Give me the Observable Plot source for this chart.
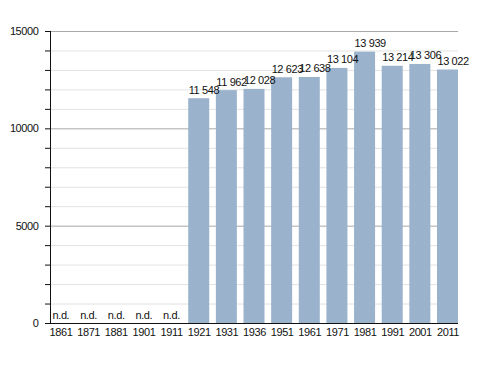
<!DOCTYPE html>
<html>
<head>
<meta charset="utf-8">
<script src="https://cdn.jsdelivr.net/npm/d3@7"></script>
<script src="https://cdn.jsdelivr.net/npm/@observablehq/plot@0.6"></script>
<style>
  body { margin: 0; background: #fff; }
  svg { font-family: "Liberation Sans", Arial, sans-serif; }
  svg text { letter-spacing: -0.4px; }
</style>
</head>
<body>
<div id="chart"></div>
<script>
const years = ["1861","1871","1881","1901","1911","1921","1931","1936","1951","1961","1971","1981","1991","2001","2011"];
const population = [null,null,null,null,null,11548,11962,12028,12623,12638,13104,13939,13214,13306,13022];
const yTicksMajor = [0, 5000, 10000, 15000];
const yTicksMinor = [1000,2000,3000,4000,6000,7000,8000,9000,11000,12000,13000,14000];
const missingLabel = "n.d.";

const data = years.map((y, i) => ({year: y, value: population[i]}));
const present = data.filter(d => d.value != null);
const missing = data.filter(d => d.value == null);
const fmt = v => d3.format(",")(v).replace(/,/g, " ");

const chart = Plot.plot({
  width: 488,
  height: 373,
  marginTop: 31,
  marginBottom: 50,
  marginLeft: 50,
  marginRight: 30,
  style: {fontSize: "11px", fontFamily: "'Liberation Sans', Arial, sans-serif", color: "#111"},
  x: {domain: years, paddingInner: 0.24, paddingOuter: 0, round: false, label: null},
  y: {domain: [0, 15000], label: null},
  marks: [
    Plot.ruleY(yTicksMinor, {stroke: "#e2e2e2", strokeWidth: 1}),
    Plot.ruleY(yTicksMajor.filter(d => d > 0), {stroke: "#a8a8a8", strokeWidth: 1}),
    Plot.barY(present, {x: "year", y: "value", fill: "#9bb2cc"}),
    Plot.text(present, {x: "year", y: "value", text: d => fmt(d.value), textAnchor: "start", lineAnchor: "bottom", dx: -10.5, dy: -5, fill: "#111", fontSize: 11}),
    Plot.text(missing, {x: "year", y: 0, text: () => missingLabel, textAnchor: "start", lineAnchor: "bottom", dx: -8.5, dy: -5, fill: "#111", fontSize: 11}),
    Plot.axisY({ticks: yTicksMajor.concat(yTicksMinor), tickFormat: d => yTicksMajor.includes(d) ? String(d) : "", tickSize: 5, tickPadding: 7, stroke: "#111", fill: "#111"}),
    Plot.axisX({tickSize: 0, tickPadding: 5, fill: "#111"}),
    Plot.frame({anchor: "left", stroke: "#111"}),
    Plot.ruleY([0], {stroke: "#111"})
  ]
});
document.getElementById("chart").appendChild(chart);
</script>
</body>
</html>
